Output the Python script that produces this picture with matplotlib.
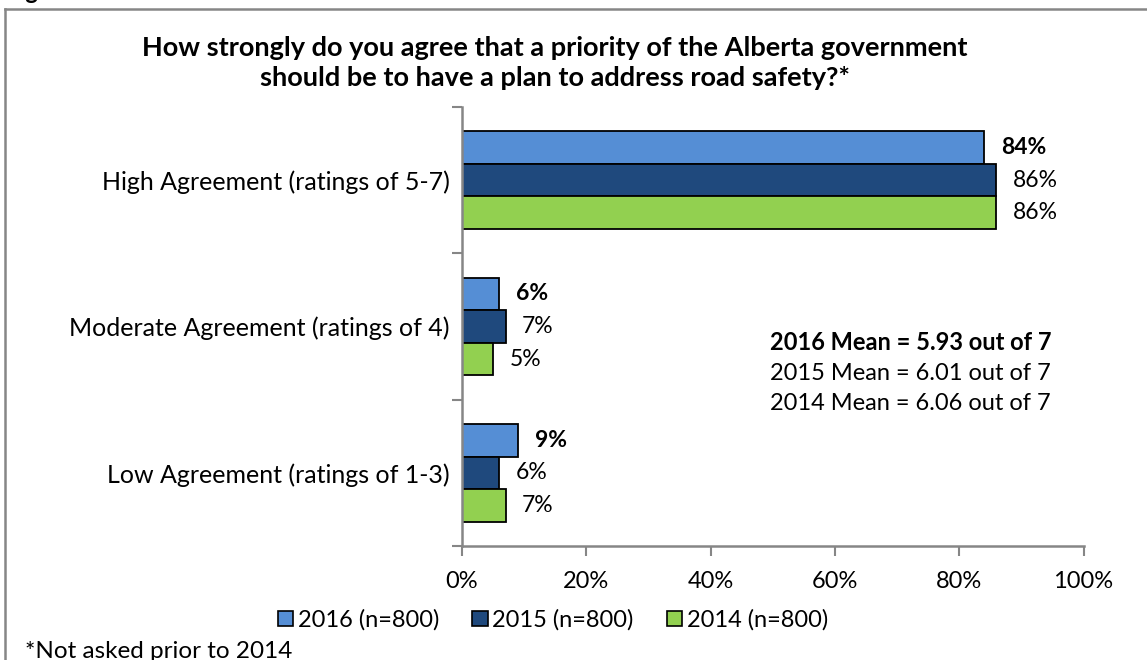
import numpy as np
import matplotlib
matplotlib.use("Agg")
import matplotlib.pyplot as plt
from matplotlib.patches import Patch
from matplotlib.lines import Line2D

categories = ["High Agreement (ratings of 5-7)",
              "Moderate Agreement (ratings of 4)",
              "Low Agreement (ratings of 1-3)"]
series_names = ["2016 (n=800)", "2015 (n=800)", "2014 (n=800)"]
values_2016 = [84, 6, 9]
values_2015 = [86, 7, 6]
values_2014 = [86, 5, 7]
means = ["2016 Mean = 5.93 out of 7",
         "2015 Mean = 6.01 out of 7",
         "2014 Mean = 6.06 out of 7"]
xticks = [0, 20, 40, 60, 80, 100]

colors = ["#558ED5", "#1F497D", "#92D050"]
axis_gray = "#868686"

plt.rcParams["font.family"] = ["Lato", "DejaVu Sans"]

fig = plt.figure(figsize=(11.47, 6.6), dpi=100)
ax = fig.add_axes([462 / 1147, 114 / 660, 621.5 / 1147, 439 / 660])

bh = 0.2226
y = np.arange(len(categories)) + 0.5
all_vals = [values_2016, values_2015, values_2014]
for i, (vals, col) in enumerate(zip(all_vals, colors)):
    pos = y + (i - 1) * bh
    ax.barh(pos, vals, height=bh, color=col, edgecolor="black", linewidth=1.3)
    for p, v in zip(pos, vals):
        ax.annotate(f"{v}%", (v, p), xytext=(12, 0), textcoords="offset points",
                    ha="left", va="center", fontsize=16.5,
                    fontweight="bold" if i == 0 else "normal")

ax.set_xlim(0, 100)
ax.set_ylim(3, 0)
ax.set_xticks(xticks)
ax.set_xticklabels([f"{t}%" for t in xticks], fontsize=17)
ax.set_yticks([0, 1, 2, 3])
ax.set_yticklabels([])
ax.set_yticks(y, minor=True)
ax.set_yticklabels(categories, minor=True, fontsize=18)
ax.tick_params(axis="y", which="minor", length=0, pad=9)
ax.tick_params(axis="y", which="major", length=7, color=axis_gray, width=1.5)
ax.tick_params(axis="x", length=7, color=axis_gray, width=1.5, pad=11)
for s in ["top", "right"]:
    ax.spines[s].set_visible(False)
for s in ["left", "bottom"]:
    ax.spines[s].set_color(axis_gray)
    ax.spines[s].set_linewidth(1.8)

# mean scores block
for k, txt in enumerate(means):
    fig.text(770 / 1147, 1 - (342 + 31 * k) / 660, txt, ha="left", va="center",
             fontsize=17, fontweight="bold" if k == 0 else "normal")

fig.text(555 / 1147, 1 - 63 / 660,
         "How strongly do you agree that a priority of the Alberta government\n"
         "should be to have a plan to address road safety?*",
         ha="center", va="center", fontsize=19.5, fontweight="bold", linespacing=1.25)

handles = [Patch(facecolor=c, edgecolor="black", linewidth=1.2) for c in colors]
fig.legend(handles, series_names, loc="center", bbox_to_anchor=(553 / 1147, 1 - 620 / 660),
           ncol=3, frameon=False, fontsize=17, handlelength=0.65, handleheight=0.65,
           handletextpad=0.2, columnspacing=1.4)

fig.text(25 / 1147, 1 - 641 / 660, "*Not asked prior to 2014", ha="left", va="top",
         fontsize=17.5)
fig.text(6 / 1147, 1 + 1 / 660, "Figure 9", ha="left", va="baseline",
         fontsize=17, fontweight="bold")

# frame around the chart area
fig.add_artist(Line2D([5 / 1147, 1], [1 - 9 / 660] * 2, transform=fig.transFigure,
                      color=axis_gray, linewidth=1.8))
fig.add_artist(Line2D([5 / 1147] * 2, [0, 1 - 9 / 660], transform=fig.transFigure,
                      color=axis_gray, linewidth=1.8))

fig.savefig("out.png", dpi=100)
